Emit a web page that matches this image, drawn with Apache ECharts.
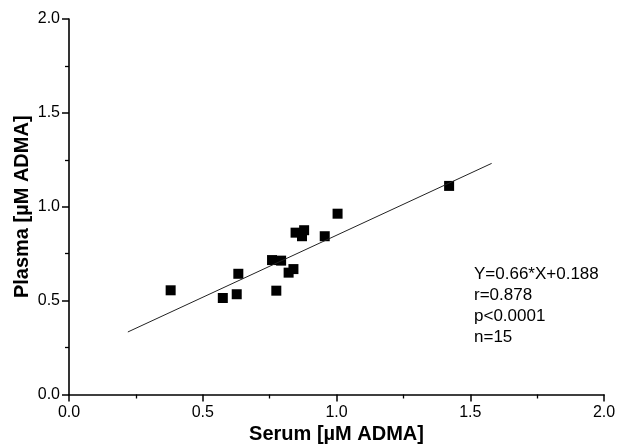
<!DOCTYPE html>
<html>
<head>
<meta charset="utf-8">
<script src="https://cdn.jsdelivr.net/npm/echarts@6/dist/echarts.min.js"></script>
<style>
  html, body { margin: 0; padding: 0; background: #fff; }
  #chart { width: 617px; height: 445px; }
</style>
</head>
<body>
<div id="chart"></div>
<script>
// serum vs plasma ADMA
var serum = [0.38, 0.575, 0.627, 0.633, 0.759, 0.775, 0.793, 0.821, 0.839, 0.847, 0.871, 0.879, 0.956, 1.004, 1.421];
var plasma = [0.555, 0.514, 0.534, 0.643, 0.716, 0.553, 0.713, 0.649, 0.668, 0.862, 0.843, 0.875, 0.843, 0.963, 1.111];
var fitX = [0.22, 1.58];
var fitY = [0.333, 1.231];
var statsLines = ['Y=0.66*X+0.188', 'r=0.878', 'p<0.0001', 'n=15'];

var font = '"Liberation Sans", Arial, sans-serif';

var points = serum.map(function (x, i) { return [x, plasma[i]]; });
var fitLine = fitX.map(function (x, i) { return [x, fitY[i]]; });

var axisCommon = {
  type: 'value',
  min: 0,
  max: 2,
  interval: 0.5,
  splitLine: { show: false },
  axisLine: { show: true, onZero: false, lineStyle: { color: '#000', width: 1.6 } },
  axisTick: { show: true, length: 7, lineStyle: { color: '#000', width: 1.5 } },
  minorTick: { show: true, splitNumber: 2, length: 4, lineStyle: { color: '#000', width: 1.3 } },
  axisLabel: {
    color: '#000',
    fontSize: 16,
    fontFamily: font,
    formatter: function (v) { return v.toFixed(1); }
  },
  nameLocation: 'middle',
  nameMoveOverlap: false,
  nameTextStyle: { color: '#000', fontSize: 20, fontWeight: 'bold', fontFamily: font }
};

var myChart = echarts.init(document.getElementById('chart'));
myChart.setOption({
  animation: false,
  grid: { left: 69, right: 13, top: 19, bottom: 50.5, containLabel: false, outerBoundsMode: 'none' },
  xAxis: Object.assign({}, axisCommon, {
    name: 'Serum [µM ADMA]',
    nameGap: 30,
    axisLabel: Object.assign({}, axisCommon.axisLabel, { margin: 10 })
  }),
  yAxis: Object.assign({}, axisCommon, {
    name: 'Plasma [µM ADMA]',
    nameGap: 37,
    axisLabel: Object.assign({}, axisCommon.axisLabel, { margin: 9 })
  }),
  series: [
    {
      type: 'line',
      data: fitLine,
      showSymbol: false,
      lineStyle: { color: '#222', width: 1 },
      silent: true
    },
    {
      type: 'scatter',
      data: points,
      symbol: 'rect',
      symbolSize: 10,
      itemStyle: { color: '#000', opacity: 1 }
    }
  ],
  graphic: statsLines.map(function (t, i) {
    return {
      type: 'text',
      left: 474,
      top: 266 + i * 21,
      style: { text: t, fill: '#000', fontSize: 17, fontFamily: font }
    };
  })
});
</script>
</body>
</html>
